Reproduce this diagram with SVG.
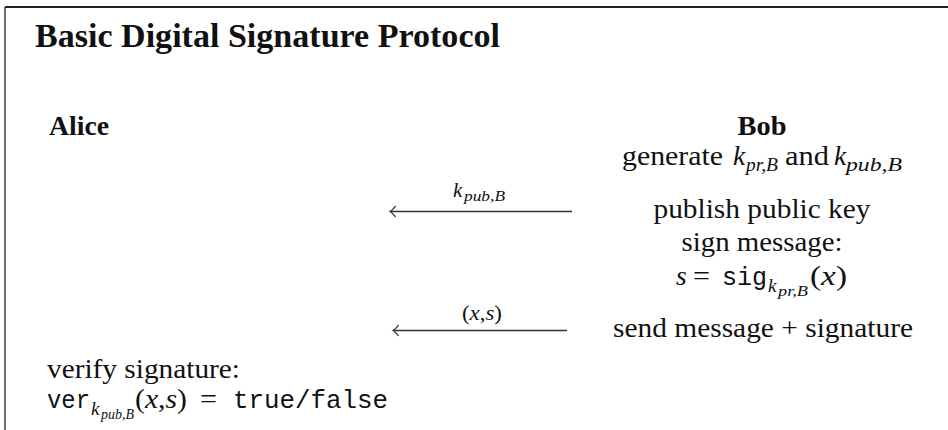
<svg xmlns="http://www.w3.org/2000/svg" width="948" height="430" viewBox="0 0 948 430">
  <defs>
    <style>
      text { font-family: "Liberation Serif", "Times New Roman", serif; font-size: 27.5px; fill: #111; }
      .bf { font-weight: bold; }
      .title { font-weight: bold; font-size: 34px; }
      .it { font-style: italic; }
      .tt { font-family: "Liberation Mono", "Courier New", monospace; font-size: 25px; }
      .sub { font-size: 19px; font-style: italic; }
      .subsub { font-size: 14.5px; font-style: italic; }
      .lbl { font-size: 21px; }
      .frame { stroke: #222; fill: none; }
      .msg { stroke: #333; stroke-width: 1.3; fill: none; }
    </style>
    <!-- thin curved arrow tip, drawn pointing along +x -->
    <marker id="tip" viewBox="0 0 8 14" refX="6" refY="7" markerWidth="8" markerHeight="14" markerUnits="userSpaceOnUse" orient="auto">
      <path d="M0.5,1.5 C2.5,4 4,6 6,7 C4,8 2.5,10 0.5,12.5" fill="none" stroke="#333" stroke-width="1.3"/>
    </marker>
  </defs>

  <!-- frame: top rule and left rule -->
  <line class="frame" x1="5" y1="7" x2="948" y2="7" stroke-width="2"/>
  <line class="frame" x1="5" y1="7" x2="5" y2="430" stroke-width="1.3" stroke="#444"/>

  <g id="title">
    <text class="title" x="35" y="47" textLength="465" lengthAdjust="spacingAndGlyphs">Basic Digital Signature Protocol</text>
  </g>

  <!-- Alice column -->
  <g id="alice">
    <text class="bf" x="49" y="135" textLength="60" lengthAdjust="spacingAndGlyphs">Alice</text>
  </g>
  <g id="alice-verify">
    <text x="47" y="378" textLength="193" lengthAdjust="spacingAndGlyphs">verify signature:</text>
    <text class="tt" x="47" y="408" textLength="43" lengthAdjust="spacingAndGlyphs">ver</text>
    <text class="sub" x="91" y="415">k</text>
    <text class="subsub" x="101" y="419" textLength="33" lengthAdjust="spacingAndGlyphs">pub,B</text>
    <text x="135" y="408" textLength="52" lengthAdjust="spacingAndGlyphs">(<tspan class="it">x</tspan>,<tspan class="it">s</tspan>)</text>
    <text x="200" y="408" textLength="17" lengthAdjust="spacingAndGlyphs">=</text>
    <text class="tt" x="233" y="408" textLength="155" lengthAdjust="spacingAndGlyphs">true/false</text>
  </g>

  <!-- Bob column, all lines centred on x=762 -->
  <g id="bob">
    <text class="bf" x="762" y="135" text-anchor="middle" textLength="49" lengthAdjust="spacingAndGlyphs">Bob</text>
  </g>
  <g id="bob-generate">
    <text x="622" y="165" textLength="101" lengthAdjust="spacingAndGlyphs">generate</text>
    <text class="it" x="733" y="165">k</text>
    <text class="sub" x="746" y="171" textLength="32" lengthAdjust="spacingAndGlyphs">pr,B</text>
    <text x="785" y="165" textLength="44" lengthAdjust="spacingAndGlyphs">and</text>
    <text class="it" x="834" y="165">k</text>
    <text class="sub" x="846" y="171" textLength="56" lengthAdjust="spacingAndGlyphs">pub,B</text>
  </g>
  <g id="bob-publish">
    <text x="762" y="218" text-anchor="middle" textLength="217" lengthAdjust="spacingAndGlyphs">publish public key</text>
  </g>
  <g id="bob-sign">
    <text x="762" y="251" text-anchor="middle" textLength="161" lengthAdjust="spacingAndGlyphs">sign message:</text>
    <text class="it" x="676" y="285">s</text>
    <text x="693" y="285" textLength="17" lengthAdjust="spacingAndGlyphs">=</text>
    <text class="tt" x="722" y="285" textLength="45" lengthAdjust="spacingAndGlyphs">sig</text>
    <text class="sub" x="768" y="292">k</text>
    <text class="subsub" x="778" y="296" textLength="30" lengthAdjust="spacingAndGlyphs">pr,B</text>
    <text x="810" y="285" textLength="37" lengthAdjust="spacingAndGlyphs">(<tspan class="it">x</tspan>)</text>
  </g>
  <g id="bob-send">
    <text x="613" y="337" textLength="300" lengthAdjust="spacingAndGlyphs">send message + signature</text>
  </g>

  <!-- messages from Bob to Alice -->
  <g id="connectors">
    <line class="msg" x1="572" y1="211.5" x2="390" y2="211.5" marker-end="url(#tip)"/>
    <text class="lbl it" x="453" y="197">k</text>
    <text class="subsub" x="464" y="201" textLength="41" lengthAdjust="spacingAndGlyphs">pub,B</text>

    <line class="msg" x1="567" y1="330.5" x2="393" y2="330.5" marker-end="url(#tip)"/>
    <text class="lbl" x="462" y="320" textLength="40" lengthAdjust="spacingAndGlyphs">(<tspan class="it">x</tspan>,<tspan class="it">s</tspan>)</text>
  </g>
</svg>
